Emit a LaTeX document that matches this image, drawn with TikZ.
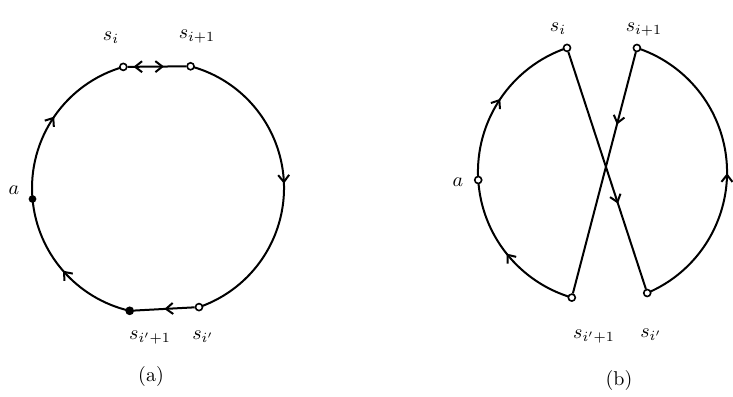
\documentclass[tikz,border=0pt]{standalone}
\usepackage{amsmath}
\usetikzlibrary{arrows.meta,decorations.markings,backgrounds}
\tikzset{
  pt/.style={draw,circle,fill=white,inner sep=0pt,minimum size=3.5pt,line width=0.8pt},
  dot/.style={pt,fill=black},
  edge/.style={line width=1pt},
  mid/.style={postaction={decorate,decoration={markings,
    mark=at position #1 with {\arrow{Straight Barb[length=3.5pt,width=5.5pt,line width=1pt]}}}}},
  back/.style={postaction={decorate,decoration={markings,
    mark=at position #1 with {\arrowreversed{Straight Barb[length=3.5pt,width=5.5pt,line width=1pt]}}}}}
}

\begin{document}
\begin{tikzpicture}[x=0.5pt,y=0.5pt]
  \useasboundingbox (0,0) rectangle (733,396);
  % (a)
  \node[pt] (si) at (123.3,329.1) {};
  \node[pt] (sip) at (190.6,329.7) {};
  \node[dot,minimum size=3pt] (pa) at (32.5,197) {};
  \node[dot] (skp) at (129.7,85.2) {};
  \node[pt] (sk) at (199,88.9) {};
  \begin{scope}[on background layer]
    \draw[edge,mid=0.5] (sip.center) arc[start angle=75,end angle=-71,radius=126];
    \draw[edge,mid=0.5] (skp.center) arc[start angle=257,end angle=185,radius=126];
    \draw[edge,mid=0.5] (pa.center) arc[start angle=185,end angle=106,radius=126];
  \end{scope}
  \draw[edge,back=0.1,mid=0.62] (si) -- (sip);
  \draw[edge,mid=0.5] (sk) -- (skp);
  \node (lsi) at (111,358) {$s_i$};
  \node (lsip) at (197,359) {$s_{i+1}$};
  \node (lskp) at (150,58) {$s_{i'+1}$};
  \node (lsk) at (203,59) {$s_{i'}$};
  \node (lpa) at (14,206) {$a$};
  \node (capa) at (151,19) {(a)};
  % (b)
  \node[pt] (bsi) at (567,348.1) {};
  \node[pt] (bsip) at (636.9,348) {};
  \node[pt] (bpa) at (478.2,216) {};
  \node[pt] (bskp) at (571.8,98.4) {};
  \node[pt] (bsk) at (647.2,103) {};
  \begin{scope}[on background layer]
    \draw[edge,mid=0.5] (bpa.center) arc[start angle=183.5,end angle=108.7,radius=131];
    \draw[edge,mid=0.5] (bskp.center) arc[start angle=253.5,end angle=183.5,radius=131];
    \draw[edge,mid=0.48] (bsk.center) arc[start angle=-67,end angle=71.8,radius=131];
  \end{scope}
  \draw[edge,mid=0.64] (bsi) -- (bsk);
  \draw[edge,mid=0.3] (bsip) -- (bskp);
  \node (lbsi) at (558,367) {$s_i$};
  \node (lbsip) at (644,366) {$s_{i+1}$};
  \node (lbskp) at (594,59) {$s_{i'+1}$};
  \node (lbsk) at (651,61) {$s_{i'}$};
  \node (lbpa) at (458,214) {$a$};
  \node (capb) at (619,16) {(b)};
\end{tikzpicture}
\end{document}
